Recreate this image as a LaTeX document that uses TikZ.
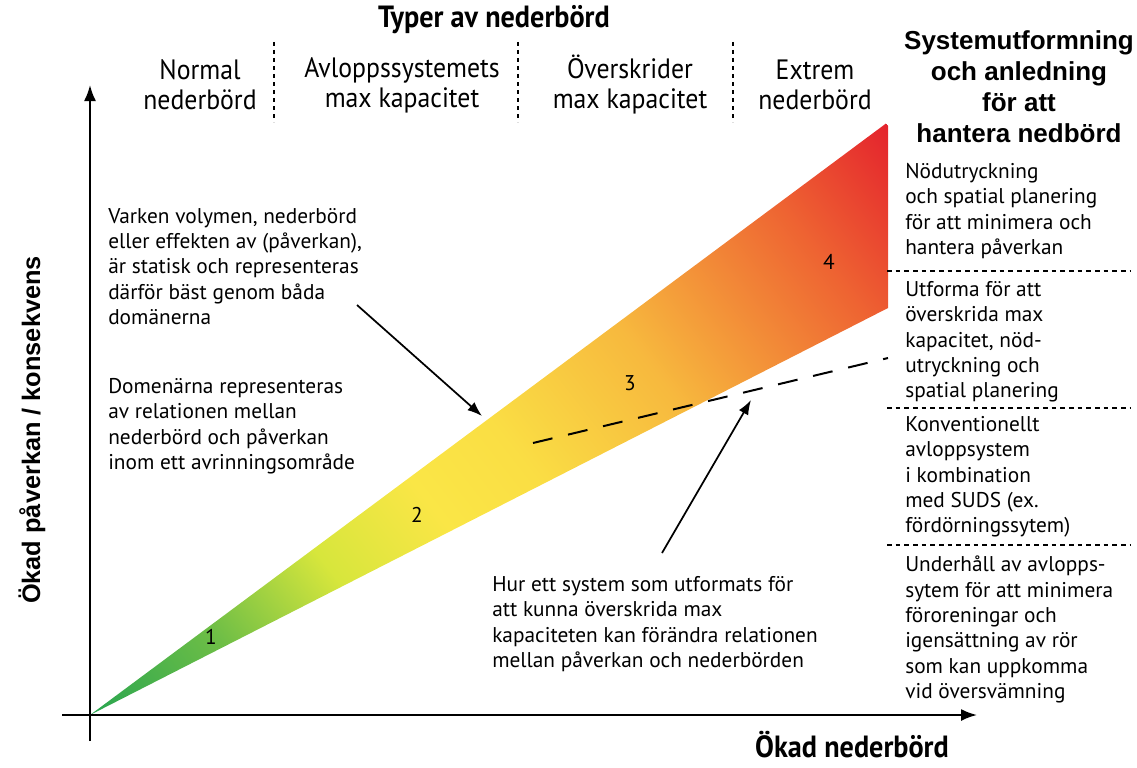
\documentclass[tikz,border=0pt]{standalone}
\usepackage{fontspec}
\setmainfont{PT Sans}
\newfontfamily\condfont[FakeStretch=0.92]{PT Sans}
\newfontfamily\arialfont{Liberation Sans}
\usetikzlibrary{arrows.meta}
\definecolor{g0}{RGB}{40,165,80}
\definecolor{g1}{RGB}{110,190,70}
\definecolor{g2}{RGB}{215,230,60}
\definecolor{yy}{RGB}{250,230,70}
\definecolor{y2}{RGB}{250,222,68}
\definecolor{o1}{RGB}{247,185,62}
\definecolor{o2}{RGB}{238,100,50}
\definecolor{rr}{RGB}{228,35,45}
\pgfdeclarehorizontalshading{wedgeshade}{900bp}{color(0bp)=(g0); color(111bp)=(g1); color(208bp)=(g2); color(297bp)=(yy); color(371bp)=(y2); color(490bp)=(o1); color(640bp)=(o2); color(741bp)=(rr)}
\begin{document}
\begin{tikzpicture}[x=0.75pt,y=-0.75pt,
  body/.style={font=\fontsize{16}{19}\selectfont, align=left, inner sep=0pt, anchor=north west},
  colhead/.style={font=\condfont\fontsize{21}{22.5}\selectfont, align=center, inner sep=0pt},
  bighead/.style={font=\condfont\bfseries\fontsize{23}{26}\selectfont, inner sep=0pt},
  arialhead/.style={font=\arialfont\bfseries\fontsize{19.5}{23.2}\selectfont, align=center, inner sep=0pt},
  num/.style={font=\fontsize{16}{18}\selectfont, inner sep=0pt},
  axisline/.style={line width=1.5pt, -{Latex[length=12pt,width=9pt]}},
  pointer/.style={line width=1.3pt, -{Latex[length=11pt,width=8pt]}},
  coldiv/.style={line width=0.8pt, dash pattern=on 3pt off 3pt},
  rowdiv/.style={line width=0.8pt, dash pattern=on 3.5pt off 3pt},
  capline/.style={line width=1.5pt, dash pattern=on 15pt off 12pt}
]
\useasboundingbox (0,0) rectangle (1137,767);

% wedge with gradient
\coordinate (apex) at (90,715);
\coordinate (wt) at (888,122);
\coordinate (wb) at (888,308);
\begin{scope}
  \clip (apex) -- (wt) -- (wb) -- cycle;
  \node[inner sep=0pt, outer sep=0pt, anchor=west, rotate=38] (shade) at (apex) {\pgfuseshading{wedgeshade}};
\end{scope}

% capacity dashed line
\coordinate (c1) at (533,443);
\coordinate (c2) at (888,358);
\draw[capline] (c1) -- (c2);

% axes
\coordinate (xl) at (62,715);
\coordinate (xr) at (977,715);
\coordinate (yb) at (90,741);
\coordinate (yt) at (90,85);
\draw[axisline] (xl) -- (xr);
\draw[axisline] (yb) -- (yt);

% numbers
\node[num] (n1) at (211,637) {1};
\node[num] (n2) at (417,515) {2};
\node[num] (n3) at (630,383) {3};
\node[num] (n4) at (829,262) {4};

% headers
\node[bighead] (typer) at (494,20) {Typer av nederbörd};
\node[colhead] (h1) at (200,85) {Normal\\nederbörd};
\node[colhead] (h2) at (402,85) {Avloppssystemets\\max kapacitet};
\node[colhead] (h3) at (630,85) {Överskrider\\max kapacitet};
\node[colhead] (h4) at (815,85) {Extrem\\nederbörd};
\coordinate (d1t) at (274,42); \coordinate (d1b) at (274,122);
\coordinate (d2t) at (518,42); \coordinate (d2b) at (518,122);
\coordinate (d3t) at (733,42); \coordinate (d3b) at (733,122);
\draw[coldiv] (d1t) -- (d1b);
\draw[coldiv] (d2t) -- (d2b);
\draw[coldiv] (d3t) -- (d3b);

\node[arialhead] (sys) at (1019,87) {Systemutformning\\och anledning\\för att\\hantera nedbörd};

% right column
\node[body] (r1) at (905,163) {Nödutryckning\\och spatial planering\\för att minimera och\\hantera påverkan};
\node[body] (r2) at (905,281) {Utforma för att\\överskrida max\\kapacitet, nöd-\\utryckning och\\spatial planering};
\node[body] (r3) at (905,416) {Konventionellt\\avloppsystem\\i kombination\\med SUDS (ex.\\fördörningssytem)};
\node[body] (r4) at (905,556) {Underhåll av avlopps-\\sytem för att minimera\\föroreningar och\\igensättning av rör\\som kan uppkomma\\vid översvämning};
\coordinate (s1l) at (887,271); \coordinate (s1r) at (1130,271);
\coordinate (s2l) at (887,408); \coordinate (s2r) at (1130,408);
\coordinate (s3l) at (887,545); \coordinate (s3r) at (1130,545);
\draw[rowdiv] (s1l) -- (s1r);
\draw[rowdiv] (s2l) -- (s2r);
\draw[rowdiv] (s3l) -- (s3r);

% left texts
\node[body] (t1) at (108,208) {Varken volymen, nederbörd\\eller effekten av (påverkan),\\är statisk och representeras\\därför bäst genom båda\\domänerna};
\node[body] (t2) at (108,378) {Domenärna representeras\\av relationen mellan\\nederbörd och påverkan\\inom ett avrinningsområde};
\node[body] (t3) at (492,576) {Hur ett system som utformats för\\att kunna överskrida max\\kapaciteten kan förändra relationen\\mellan påverkan och nederbörden};

% pointers
\coordinate (p1s) at (357,305);
\coordinate (p1e) at (482,416);
\coordinate (p2s) at (662,553);
\coordinate (p2e) at (751,400);
\draw[pointer] (p1s) -- (p1e);
\draw[pointer] (p2s) -- (p2e);

% axis titles
\node[bighead] (xt) at (852,745) {Ökad nederbörd};
\node[font=\arialfont\bfseries\fontsize{19}{23}\selectfont, inner sep=0pt, rotate=90] (ytl) at (32,430) {Ökad påverkan / konsekvens};
\end{tikzpicture}
\end{document}
